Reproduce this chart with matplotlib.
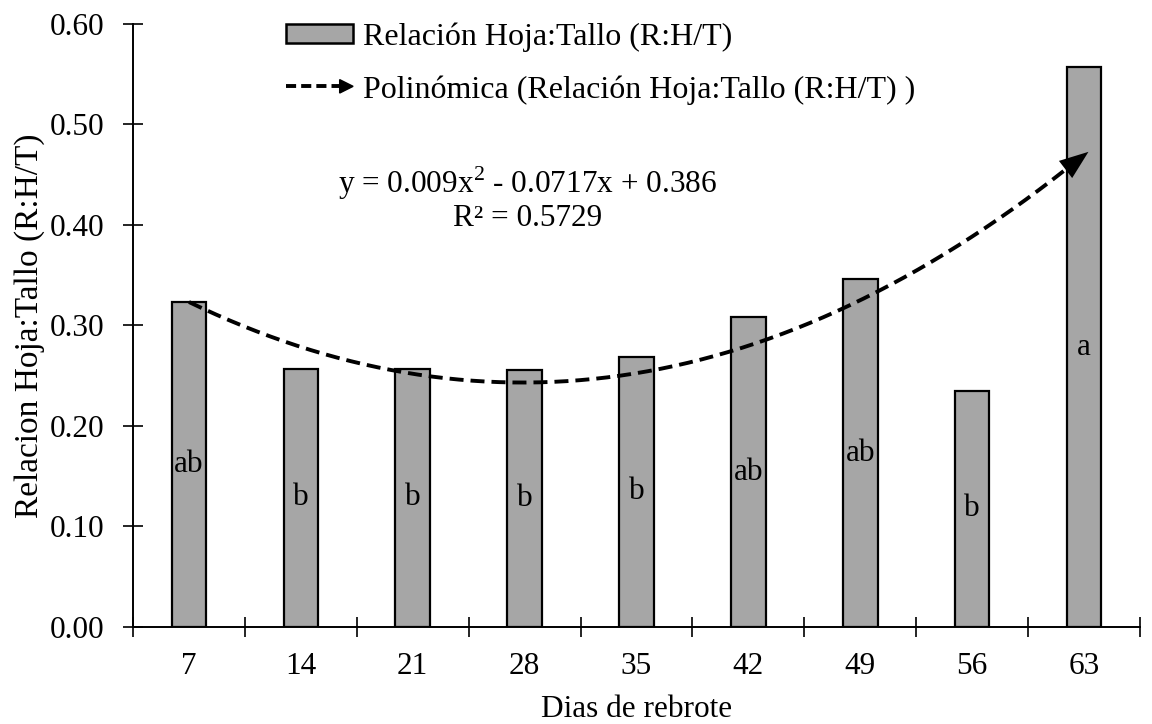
import numpy as np
import matplotlib
matplotlib.use("Agg")
import matplotlib.pyplot as plt
from matplotlib.patches import Patch, Polygon
from matplotlib.lines import Line2D
from matplotlib.legend_handler import HandlerBase

# data
dias = ["7", "14", "21", "28", "35", "42", "49", "56", "63"]
rht = [0.323, 0.257, 0.257, 0.256, 0.269, 0.308, 0.346, 0.235, 0.557]
letras = ["ab", "b", "b", "b", "b", "ab", "ab", "b", "a"]
trend_coef = [0.009, -0.0717, 0.386]   # polynomial on x = 1..9
r2 = 0.5729

plt.rcParams["font.family"] = ["Liberation Serif", "DejaVu Serif"]
plt.rcParams["mathtext.fontset"] = "custom"
plt.rcParams["mathtext.rm"] = "Liberation Serif"
FS = 22.5
DASH = (0, (3.6, 1.8))


class ArrowLineHandler(HandlerBase):
    """Dashed line ending in a triangle head, for the trend legend entry."""
    def create_artists(self, legend, orig_handle, xdescent, ydescent,
                       width, height, fontsize, trans):
        y = height / 2 - ydescent
        x0, x1 = -xdescent, width - xdescent
        head = 0.42 * fontsize
        line = Line2D([x0, x1 - head], [y, y], color="black", lw=2.8,
                      linestyle=(0, (2.6, 1.3)), transform=trans)
        tri = Polygon([[x1 - head, y - head * 0.5], [x1, y],
                       [x1 - head, y + head * 0.5]], closed=True,
                      color="black", transform=trans)
        return [line, tri]


fig = plt.figure(figsize=(11.52, 7.24), dpi=100)
ax = fig.add_axes([0.1155, 0.134, 0.874, 0.833])

x = np.arange(len(dias))
ax.bar(x, rht, width=0.31, color="#A6A6A6", edgecolor="black", linewidth=1.6,
       zorder=2)
for xi, h, lab in zip(x, rht, letras):
    ax.text(xi, h / 2, lab, ha="center", va="center", fontsize=FS, zorder=3)

# polynomial trend line, evaluated over the category index 1..9
xs = np.linspace(1, len(dias), 200)
ys = np.polyval(trend_coef, xs)
ax.plot(xs[:-3] - 1, ys[:-3], color="black", lw=2.8, linestyle=DASH, zorder=4)
ax.annotate("", xy=(xs[-1] - 1 + 0.04, ys[-1] + 0.003),
            xytext=(xs[-4] - 1, ys[-4]),
            arrowprops=dict(arrowstyle="-|>,head_length=0.8,head_width=0.3",
                            mutation_scale=26, color="black", lw=0,
                            shrinkA=0, shrinkB=0),
            zorder=4)

eq = ("y = 0.009x$^{2}$ - 0.0717x + 0.386\n"
      f"R² = {r2}")
ax.text(3.03, 0.426, eq, ha="center", va="center", multialignment="center",
        fontsize=FS, linespacing=1.1)

ax.set_xlim(-0.5, len(dias) - 0.5)
ax.set_ylim(0, 0.6)
ax.set_yticks(np.arange(0, 0.61, 0.1))
ax.set_yticklabels([f"{v:.2f}" for v in np.arange(0, 0.61, 0.1)], fontsize=FS)
ax.set_xticks(x)
ax.set_xticklabels(dias, fontsize=FS)
ax.set_xticks(np.arange(-0.5, len(dias)), minor=True)
ax.tick_params(axis="x", which="major", length=0, pad=18)
ax.tick_params(axis="x", which="minor", direction="inout", length=14, width=1.2)
ax.tick_params(axis="y", direction="inout", length=14, width=1.2, pad=14)

for side in ["top", "right"]:
    ax.spines[side].set_visible(False)
for side in ["left", "bottom"]:
    ax.spines[side].set_linewidth(1.4)

ax.set_xlabel("Dias de rebrote", fontsize=FS, labelpad=10)
ax.set_ylabel("Relacion Hoja:Tallo (R:H/T)", fontsize=24, labelpad=3)

handles = [Patch(facecolor="#A6A6A6", edgecolor="black", linewidth=1.8),
           Line2D([], [])]
labels = ["Relación Hoja:Tallo (R:H/T)",
          "Polinómica (Relación Hoja:Tallo (R:H/T) )"]
fig.legend(handles, labels, loc="upper left",
           bbox_to_anchor=(286 / 1152, 1 - 22 / 724),
           bbox_transform=fig.transFigure, borderpad=0, borderaxespad=0,
           frameon=False, fontsize=23, handlelength=2.1, handleheight=0.55,
           handletextpad=0.3, labelspacing=0.74,
           handler_map={Line2D: ArrowLineHandler()})

fig.savefig("out.png", dpi=100)
